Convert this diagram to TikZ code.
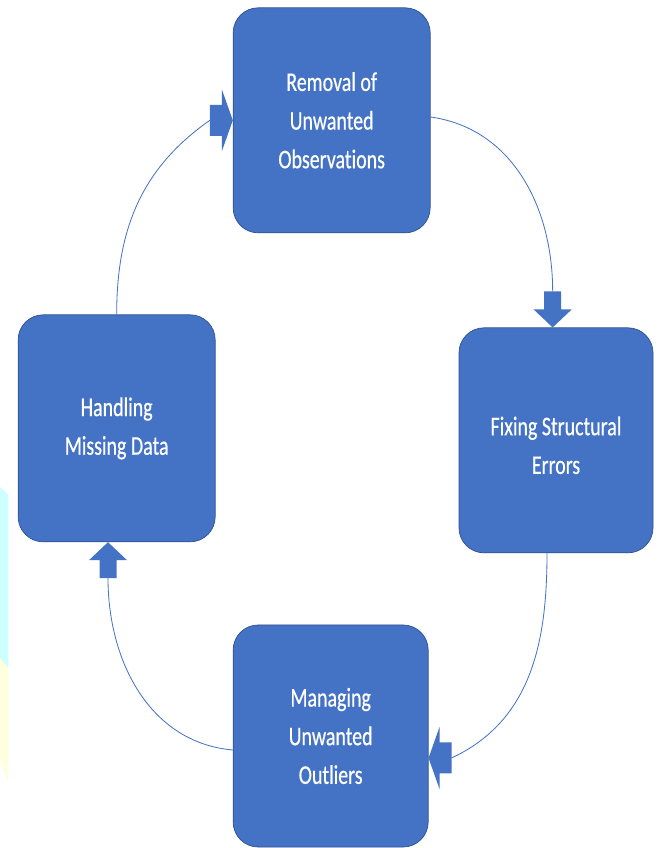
\documentclass[tikz,border=0pt]{standalone}
\usepackage{fontspec}
\usepackage{tikz}
\usetikzlibrary{positioning}
\newfontfamily\stagefont[FakeStretch=0.74, FakeBold=0.5, Ligatures=NoCommon]{Carlito}
\definecolor{bblue}{HTML}{4472C4}
\definecolor{bedge}{HTML}{2F528F}
\definecolor{stripcyan}{HTML}{CCFFFF}
\definecolor{stripyellow}{HTML}{FFFFDD}
\tikzset{stage/.style = {draw=bedge, line width=0.6pt, fill=bblue, rounded corners=0.75cm,
                         text=white, align=center, inner sep=0,
                         font=\stagefont\fontsize{23}{33}\selectfont}}
\tikzset{cyc/.style = {draw=bblue, line width=0.7pt}}
\tikzset{pics/vertarr/.style = {code={
  \fill[bblue] (0,0) -- (-0.57,-0.54) -- (-0.255,-0.54) -- (-0.255,-1.08)
               -- (0.255,-1.08) -- (0.255,-0.54) -- (0.57,-0.54) -- cycle;
  \coordinate (-tail) at (0,-1.08);}}}
\tikzset{pics/sidearr/.style = {code={
  \fill[bblue] (0,0) -- (-0.33,0.93) -- (-0.33,0.465) -- (-0.69,0.465)
               -- (-0.69,-0.465) -- (-0.33,-0.465) -- (-0.33,-0.93) -- cycle;
  \coordinate (-tail) at (-0.69,0);}}}

\begin{document}
\begin{tikzpicture}
      \useasboundingbox (0, 0) rectangle (19.77, 25.44);
      \fill [white] (0, 0) rectangle (19.77, 25.44);
      \fill [stripcyan] (0, 10.83) -- (0.25, 10.6) -- (0.25, 5.4) -- (0, 5.7) -- cycle;
      \fill [stripyellow] (0, 5.7) -- (0.25, 5.4) -- (0.25, 1.95) -- (0, 2.64) -- cycle;

      \node [stage, minimum width=5.91cm, minimum height=6.75cm] (obs) at (9.95, 21.83)
            {Removal of\\Unwanted\\Observations};
      \node [stage, minimum width=5.82cm, minimum height=6.75cm] (fix) at (16.68, 12.23)
            {\\[-0.3cm]Fixing Structural\\Errors};
      \node [stage, minimum width=5.85cm, minimum height=6.66cm] (out) at (9.92, 3.36)
            {Managing\\Unwanted\\Outliers};
      \node [stage, minimum width=5.91cm, minimum height=6.81cm] (miss) at (3.50, 12.59)
            {Handling\\Missing Data};

      \pic (arrObs) at (obs.west) {sidearr};
      \pic [rotate=180] (arrFix) at ([xshift=-0.1cm]fix.north) {vertarr};
      \pic [rotate=180] (arrOut) at ([yshift=-0.66cm]out.east) {sidearr};
      \pic (arrMiss) at ([xshift=-0.26cm]miss.south) {vertarr};

      \draw [cyc] (miss.north) to [out=90, in=215] (arrObs-tail);
      \draw [cyc] ([yshift=0.1cm]obs.east) to [out=-8, in=90] (arrFix-tail);
      \draw [cyc] ([xshift=-0.27cm]fix.south) to [out=-90, in=25] (arrOut-tail);
      \draw [cyc] ([yshift=-0.42cm]out.west) to [out=175, in=-90] (arrMiss-tail);
\end{tikzpicture}
\end{document}
